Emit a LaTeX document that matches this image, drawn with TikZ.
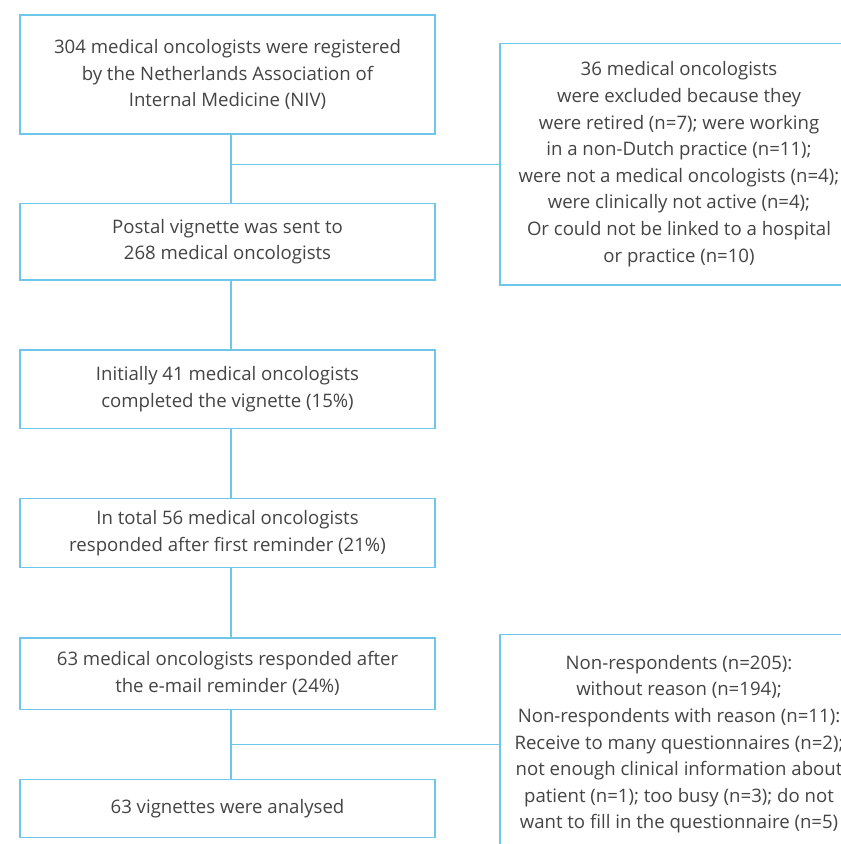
\documentclass[tikz,border=0pt]{standalone}
\usepackage{fontspec}
\setmainfont{Open Sans}
\definecolor{lineblue}{HTML}{6EC6EA}
\definecolor{txt}{HTML}{444444}
\begin{document}
\begin{tikzpicture}[x=1pt,y=-1pt,
  box/.style={draw=lineblue, line width=1.3pt, align=center, inner sep=0pt,
    text=txt, font=\fontsize{18.6}{26.6}\selectfont},
  lbox/.style={box, minimum width=415pt},
  conn/.style={draw=lineblue, line width=1.3pt}]
\useasboundingbox (0,0) rectangle (841,844);
\clip (0,0) rectangle (841,844);
\fill[white] (0,0) rectangle (841,844);
\coordinate (trunk) at (231,0);
\node[lbox, minimum height=119pt] (b1) at (227.5,74.5)
  {304 medical oncologists were registered\\by the Netherlands Association of\\Internal Medicine (NIV)};
\node[lbox, minimum height=76.5pt] (b2) at (227.5,241.75)
  {Postal vignette was sent to\\268 medical oncologists};
\node[lbox, minimum height=78.7pt] (b3) at (227.5,389.3)
  {Initially 41 medical oncologists\\completed the vignette (15\%)};
\node[lbox, minimum height=69pt] (b4) at (227.5,533.2)
  {In total 56 medical oncologists\\responded after first reminder (21\%)};
\node[lbox, minimum height=71.3pt] (b5) at (227.5,673.6)
  {63 medical oncologists responded after\\the e-mail reminder (24\%)};
\node[lbox, minimum height=58pt] (b6) at (227.5,808.3)
  {63 vignettes were analysed};
\node[box, minimum width=358pt, minimum height=241.5pt] (r1) at (679,164.25)
  {36 medical oncologists\\were excluded because they\\were retired (n=7); were working\\in a non-Dutch practice (n=11);\\were not a medical oncologists (n=4);\\were clinically not active (n=4);\\Or could not be linked to a hospital\\or practice (n=10)};
\node[box, minimum width=358pt, minimum height=219.3pt] (r2) at (679,744.3)
  {Non-respondents (n=205):\\without reason (n=194);\\Non-respondents with reason (n=11):\\Receive to many questionnaires (n=2);\\not enough clinical information about\\patient (n=1); too busy (n=3); do not\\want to fill in the questionnaire (n=5)};
\draw[conn] (b1.south -| trunk) -- (b2.north -| trunk);
\draw[conn] (b2.south -| trunk) -- (b3.north -| trunk);
\draw[conn] (b3.south -| trunk) -- (b4.north -| trunk);
\draw[conn] (b4.south -| trunk) -- (b5.north -| trunk);
\draw[conn] (b5.south -| trunk) -- (b6.north -| trunk);
\draw[conn] (r1.west -| trunk) -- (r1.west);
\draw[conn] (r2.west -| trunk) -- (r2.west);
\end{tikzpicture}
\end{document}
